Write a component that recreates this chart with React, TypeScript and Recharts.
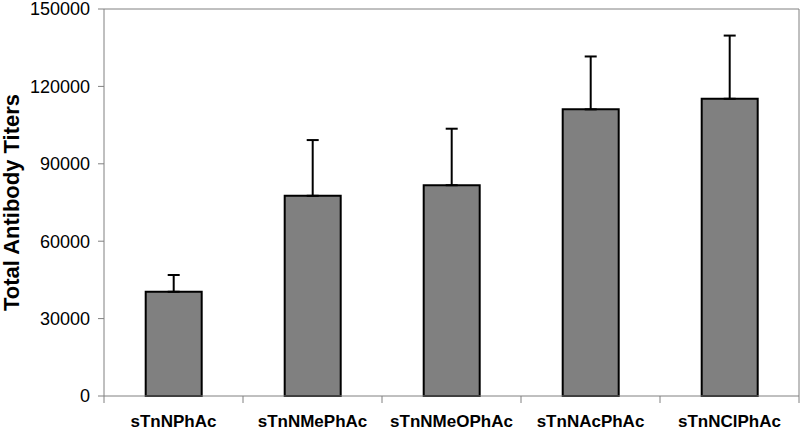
import React from 'react';
import { BarChart, Bar, XAxis, YAxis, ErrorBar, ReferenceLine } from 'recharts';

const categories = ['sTnNPhAc', 'sTnNMePhAc', 'sTnNMeOPhAc', 'sTnNAcPhAc', 'sTnNClPhAc'];
const titers = [40400, 77600, 81700, 111100, 115200];
const errorsUp = [6500, 21600, 21900, 20500, 24500];
const yTicks = [0, 30000, 60000, 90000, 120000, 150000];

const data = categories.map((name, i) => ({
  name,
  value: titers[i],
  err: [0, errorsUp[i]],
}));

const FONT = '"Liberation Sans", Arial, sans-serif';

const XTick = (props: any) => {
  const { x, y, payload, index } = props;
  const off = payload.offset || 0;
  return (
    <g>
      <line x1={x - off} y1={y} x2={x - off} y2={y + 7} stroke="#808080" strokeWidth={1} />
      {index === categories.length - 1 && (
        <line x1={x + off} y1={y} x2={x + off} y2={y + 7} stroke="#808080" strokeWidth={1} />
      )}
      <text x={x} y={y + 31} textAnchor="middle" fontFamily={FONT} fontWeight="bold" fontSize={17} fill="#000">
        {payload.value}
      </text>
    </g>
  );
};

const YLabel = (props: any) => {
  const vb = props.viewBox || { x: 0, y: 9, width: 104, height: 387 };
  const cy = vb.y + vb.height / 2;
  return (
    <text
      transform={`translate(19,${cy}) rotate(-90)`}
      textAnchor="middle"
      fontFamily={FONT}
      fontWeight="bold"
      fontSize={22}
      fill="#000"
    >
      Total Antibody Titers
    </text>
  );
};

export default function App() {
  return (
    <div style={{ position: 'absolute', left: 0, top: 0, background: '#fff' }}>
      <BarChart
        width={800}
        height={430}
        data={data}
        margin={{ top: 9, right: 0, bottom: 0, left: 0 }}
        barCategoryGap="30%"
      >
        <XAxis
          dataKey="name"
          height={34}
          stroke="#808080"
          tickLine={false}
          tickSize={0}
          tickMargin={0}
          tick={<XTick />}
          interval={0}
        />
        <YAxis
          width={104}
          domain={[0, 150000]}
          ticks={yTicks}
          interval={0}
          stroke="#808080"
          tickSize={6}
          tickMargin={8}
          tick={{ fill: '#000', fontSize: 18, fontFamily: FONT }}
          label={<YLabel />}
        />
        <YAxis
          yAxisId="right"
          orientation="right"
          width={1}
          domain={[0, 150000]}
          tick={false}
          tickLine={false}
          stroke="#808080"
        />
        <ReferenceLine y={150000} stroke="#808080" strokeWidth={1} ifOverflow="visible" />
        <Bar dataKey="value" fill="#808080" stroke="#000" strokeWidth={2} isAnimationActive={false}>
          <ErrorBar dataKey="err" width={6} stroke="#000" strokeWidth={2} direction="y" />
        </Bar>
      </BarChart>
    </div>
  );
}
